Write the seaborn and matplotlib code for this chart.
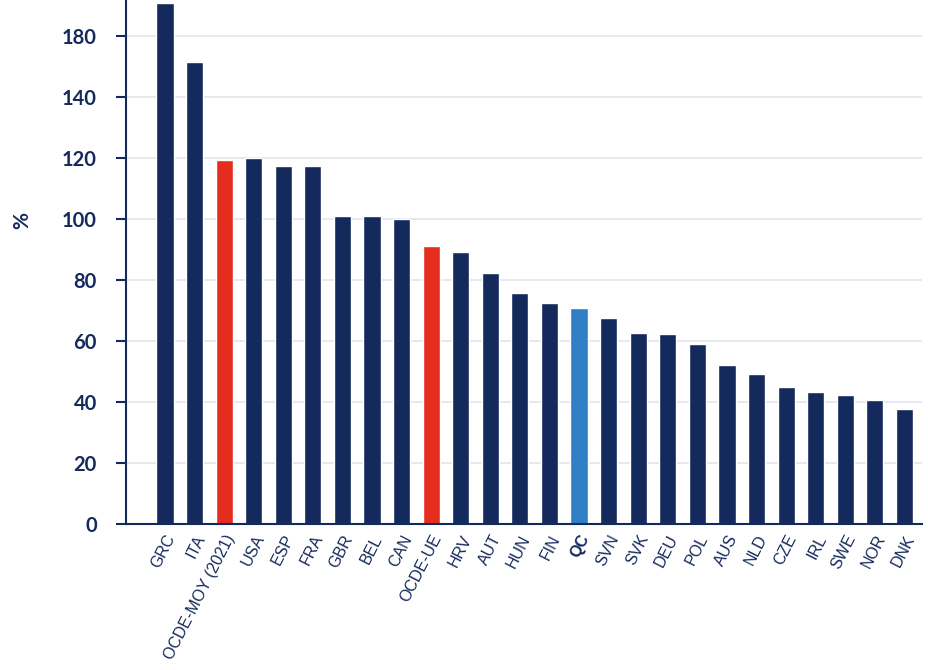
import matplotlib
matplotlib.use("Agg")
import matplotlib.pyplot as plt
import seaborn as sns
import pandas as pd

# Données (unités de position de l'axe)
pays = ["GRC", "ITA", "OCDE-MOY (2021)", "USA", "ESP", "FRA", "GBR", "BEL", "CAN",
        "OCDE-UE", "HRV", "AUT", "HUN", "FIN", "QC", "SVN", "SVK", "DEU", "POL",
        "AUS", "NLD", "CZE", "IRL", "SWE", "NOR", "DNK"]
valeurs = [170.7, 151.5, 119.3, 120.0, 117.4, 117.4, 101.0, 101.0, 100.0,
           91.1, 89.2, 82.3, 75.7, 72.5, 70.8, 67.5, 62.7, 62.3, 59.0,
           52.1, 49.2, 44.9, 43.3, 42.3, 40.7, 37.7]
graduations = [0, 20, 40, 60, 80, 100, 120, 140, 160]
etiquettes_y = ["0", "20", "40", "60", "80", "100", "120", "140", "180"]

marine = "#152a5c"
rouge = "#e52d1d"
bleu = "#3080c6"
couleurs = []
for p in pays:
    if p.startswith("OCDE"):
        couleurs.append(rouge)
    elif p == "QC":
        couleurs.append(bleu)
    else:
        couleurs.append(marine)

df = pd.DataFrame({"pays": pays, "valeur": valeurs})

sns.set_style("white")
plt.rcParams["font.family"] = ["Lato", "DejaVu Sans"]

fig = plt.figure(figsize=(9.29, 6.70), dpi=100)
ax = fig.add_axes([0.1356, 0.2179, 0.857, 0.7821])

sns.barplot(data=df, x="pays", y="valeur", hue="pays", palette=couleurs,
            legend=False, width=0.58, saturation=1, ax=ax)

ax.set_xlim(-1.32, 25.6)
ax.set_ylim(0, 171.8)
ax.set_yticks(graduations)
ax.set_yticklabels(etiquettes_y, fontsize=14.5, fontweight="bold", color=marine)
ax.yaxis.grid(True, color="#e3e5ee", linewidth=1.2)
ax.set_axisbelow(True)

ax.set_xticks(range(len(pays)))
ax.set_xticklabels(pays, rotation=63, ha="right", va="top",
                   rotation_mode="anchor", fontsize=11.5, color=marine,
                   family=["Liberation Sans", "DejaVu Sans"])
for lab in ax.get_xticklabels():
    if lab.get_text() == "QC":
        lab.set_fontweight("bold")

ax.tick_params(axis="y", length=7, width=1.5, color=marine, pad=14, direction="out", left=True)
ax.tick_params(axis="x", length=0, pad=6)

for s in ["top", "right"]:
    ax.spines[s].set_visible(False)
for s in ["left", "bottom"]:
    ax.spines[s].set_color(marine)
    ax.spines[s].set_linewidth(1.5)

ax.set_xlabel("")
ax.set_ylabel("%", fontsize=15, fontweight="bold", color=marine)
ax.yaxis.set_label_coords(-0.118, 0.58)

fig.savefig("out.png", dpi=100)
